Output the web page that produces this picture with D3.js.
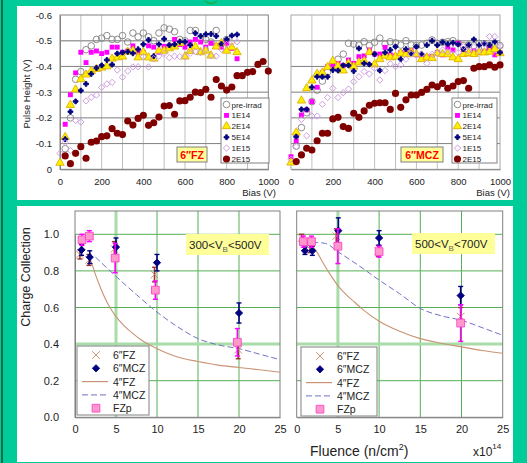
<!DOCTYPE html>
<html>
<head>
<meta charset="utf-8">
<script src="https://cdn.jsdelivr.net/npm/d3@7"></script>
<style>
body { margin: 0; background: #00cc99; }
svg { display: block; font-family: "Liberation Sans", Arial, sans-serif; }
</style>
</head>
<body>
<svg id="chart" width="527" height="463"></svg>
<script>
// ---- data: pulse height vs bias (top) ----
var biasV = [0,25,50,75,100,125,150,175,200,225,250,275,300,325,350,375,400,425,450,475,500,
	525,550,575,600,625,650,675,700,725,750,775,800,825,850,875,900,925,950,975,1000];
var seriesNames = ["pre-irrad", "1E14", "2E14", "5E14", "1E15", "2E15"];
var biasTicks = [0, 200, 400, 600, 800, 1000];
var biasGrid = [100, 200, 300, 400, 500, 600, 700, 800, 900];
var pulseTicks = [0, -0.1, -0.2, -0.3, -0.4, -0.5, -0.6];

var fzPre = [null,-0.08,-0.2,-0.35,-0.38,-0.465,-0.48,-0.505,-0.51,-0.52,-0.505,-0.505,-0.52,-0.495,-0.53,-0.515,-0.53,-0.515,-0.5,-0.53,-0.55,
	-0.545,-0.535,-0.505,-0.5,-0.54,-0.54,-0.51,-0.505,-0.495,-0.54,null,-0.505,null,null,null,null,null,null,null,null];
var fz1E14 = [null,-0.175,-0.29,-0.375,-0.455,-0.415,-0.455,-0.46,-0.45,-0.455,-0.475,-0.475,-0.455,-0.46,-0.48,-0.455,-0.455,-0.48,-0.475,-0.455,-0.478,
	-0.48,-0.505,-0.485,-0.475,-0.495,-0.505,-0.495,-0.475,-0.49,-0.48,-0.475,-0.49,-0.47,-0.43,null,null,null,null,null,null];
var fz2E14 = [-0.025,-0.125,-0.25,-0.31,-0.35,-0.368,-0.382,-0.39,-0.395,-0.4,-0.43,-0.435,-0.438,-0.457,-0.461,-0.435,-0.455,-0.435,-0.43,-0.461,-0.461,
	-0.47,-0.477,-0.49,-0.438,-0.46,-0.477,-0.455,-0.461,-0.442,-0.477,-0.49,-0.461,-0.474,-0.455,null,null,null,null,null,null];
var fz5E14 = [null,-0.117,-0.224,-0.264,-0.306,-0.332,-0.371,-0.394,-0.404,-0.425,-0.407,-0.45,-0.454,-0.457,-0.451,-0.467,-0.486,-0.503,-0.44,-0.486,-0.507,
	-0.483,-0.486,-0.496,-0.496,-0.483,-0.529,-0.518,-0.525,-0.526,-0.518,-0.487,-0.505,-0.52,-0.524,null,null,null,null,null,null];
var fz1E15 = [-0.062,-0.104,-0.073,-0.19,-0.184,-0.266,-0.28,-0.289,-0.319,-0.332,-0.338,-0.386,-0.358,-0.382,-0.398,-0.399,-0.438,-0.398,-0.43,-0.44,-0.451,
	-0.434,-0.44,-0.438,-0.438,-0.451,-0.457,-0.454,-0.467,-0.442,-0.44,-0.467,-0.486,-0.494,-0.496,null,null,null,null,null,null];
var fz2E15 = [null,-0.052,-0.022,-0.062,-0.088,-0.043,-0.105,-0.11,-0.127,-0.13,-0.158,-0.14,-0.135,-0.188,-0.172,-0.198,-0.21,-0.171,-0.181,-0.203,-0.246,
	-0.248,-0.214,-0.266,-0.267,-0.28,-0.3,-0.298,-0.311,-0.28,-0.349,-0.324,-0.308,-0.32,-0.364,-0.364,-0.377,-0.38,-0.408,-0.419,-0.382];

var mczPre = [null,-0.09,-0.162,-0.22,-0.263,-0.308,-0.343,-0.378,-0.395,-0.428,-0.448,-0.49,-0.487,-0.483,-0.496,-0.481,-0.494,-0.51,-0.487,-0.496,-0.492,
	-0.483,-0.5,-0.483,-0.481,-0.483,-0.49,-0.503,-0.49,-0.494,-0.496,-0.5,-0.49,-0.481,-0.483,-0.481,-0.49,-0.477,-0.481,-0.481,-0.481];
var mcz1E14 = [-0.049,-0.111,-0.211,-0.231,-0.263,-0.319,-0.376,-0.399,-0.406,-0.412,-0.404,-0.425,-0.412,-0.438,-0.441,-0.464,-0.448,-0.448,-0.474,-0.445,-0.441,
	-0.454,-0.451,-0.461,-0.445,-0.441,-0.438,-0.438,-0.454,-0.445,-0.474,-0.464,-0.49,-0.464,-0.451,-0.46,-0.454,-0.457,-0.47,-0.445,-0.454];
var mcz2E14 = [-0.026,-0.143,-0.267,-0.315,-0.345,-0.371,-0.376,-0.397,-0.421,-0.402,-0.384,-0.412,-0.399,-0.415,-0.421,-0.455,-0.408,-0.428,-0.441,-0.435,-0.438,
	-0.451,-0.447,-0.455,-0.448,-0.428,-0.435,-0.432,-0.451,-0.448,-0.447,-0.435,-0.428,-0.448,-0.451,-0.448,-0.455,-0.454,-0.457,-0.467,-0.451];
var mcz5E14 = [null,-0.127,-0.233,-0.233,-0.319,-0.36,-0.36,-0.36,-0.386,-0.384,-0.404,-0.404,-0.382,-0.47,-0.412,-0.408,-0.448,-0.384,-0.454,-0.464,-0.477,
	-0.428,-0.467,-0.451,-0.477,-0.448,-0.483,-0.5,-0.483,-0.494,-0.487,-0.492,-0.486,-0.467,-0.483,-0.505,-0.483,-0.49,-0.483,-0.496,-0.454];
var mcz1E15 = [-0.039,-0.088,-0.194,-0.13,-0.207,-0.207,-0.253,-0.279,-0.315,-0.279,-0.298,-0.312,-0.341,-0.36,-0.38,-0.371,-0.393,-0.347,-0.384,-0.41,-0.399,
	-0.406,-0.428,-0.448,-0.445,-0.448,-0.412,-0.447,-0.451,-0.464,-0.457,-0.467,-0.454,-0.477,-0.461,-0.477,-0.461,-0.487,-0.516,-0.516,-0.48];
var mcz2E15 = [null,-0.03,-0.056,-0.082,-0.075,-0.111,-0.14,-0.14,-0.196,-0.202,-0.166,-0.159,-0.218,-0.202,-0.227,-0.249,-0.257,-0.259,-0.259,-0.233,-0.295,
	-0.241,-0.27,-0.289,-0.289,-0.299,-0.311,-0.328,-0.321,-0.334,-0.315,-0.324,-0.341,-0.345,-0.315,-0.393,-0.399,-0.399,-0.406,-0.397,-0.406];

// ---- data: charge collection vs fluence (bottom), A = 300<VB<500V, B = 500<VB<700V ----
var fluenceTicks = [0, 5, 10, 15, 20, 25];
var fluenceGrid = [5, 10, 15, 20];
var ccTicks = [0, 0.2, 0.4, 0.6, 0.8, 1.0];
var ccLegend = ["6\u2033FZ", "6\u2033MCZ", "4\u2033FZ", "4\u2033MCZ", "FZp"];

var fz6X_A = [0.6, 1.7, 4.8, 9.7, 19.9];
var fz6Y_A = [0.89, 0.86, 0.92, 0.78, 0.37];
var fz6E_A = [0.025, 0.03, 0.04, 0.04, 0.05];
var mcz6X_A = [0.8, 1.8, 5.0, 10.0, 20.0];
var mcz6Y_A = [0.915, 0.875, 0.93, 0.845, 0.57];
var mcz6E_A = [0.03, 0.035, 0.05, 0.045, 0.055];
var fzpX_A = [0.85, 1.75, 4.9, 9.8, 19.8];
var fzpY_A = [0.97, 0.99, 0.87, 0.695, 0.41];
var fzpE_A = [0.03, 0.03, 0.08, 0.05, 0.075];
var fz4X_A = [1.9, 2.5, 3, 4, 5, 6, 7, 8, 10, 12.5, 15, 17.5, 20, 22.5, 25];
var fz4Y_A = [0.86, 0.78, 0.72, 0.62, 0.55, 0.5, 0.46, 0.425, 0.375, 0.33, 0.305, 0.285, 0.272, 0.26, 0.246];
var mcz4X_A = [2.5, 5, 7.5, 10, 12.5, 15, 17.5, 20, 22.5, 25];
var mcz4Y_A = [0.875, 0.77, 0.67, 0.575, 0.495, 0.43, 0.395, 0.375, 0.345, 0.315];

var fz6X_B = [0.6, 1.6, 4.8, 9.9, 19.9];
var fz6Y_B = [0.98, 0.92, 0.99, 0.91, 0.55];
var fz6E_B = [0.02, 0.02, 0.04, 0.03, 0.05];
var mcz6X_B = [1.0, 1.9, 5.05, 10.0, 19.9];
var mcz6Y_B = [0.91, 0.91, 1.02, 0.98, 0.665];
var mcz6E_B = [0.02, 0.025, 0.07, 0.04, 0.05];
var fzpX_B = [0.8, 1.8, 5.0, 10.0, 19.9];
var fzpY_B = [0.96, 0.96, 0.935, 0.905, 0.515];
var fzpE_B = [0.03, 0.03, 0.095, 0.03, 0.1];
var fz4X_B = [2, 2.5, 3, 4, 5, 6, 7, 8, 10, 12.5, 15, 17.5, 20, 22.5, 25];
var fz4Y_B = [0.93, 0.9, 0.86, 0.785, 0.72, 0.67, 0.63, 0.59, 0.525, 0.47, 0.43, 0.405, 0.385, 0.365, 0.35];
var mcz4X_B = [0.8, 2.5, 3.5, 5, 7.5, 10, 12.5, 15, 17.5, 20, 22.5, 25];
var mcz4Y_B = [0.955, 0.955, 0.95, 0.905, 0.83, 0.75, 0.675, 0.595, 0.555, 0.53, 0.49, 0.448];

// ---- styles ----
var topMarkers = [
	{type: d3.symbolCircle, size: 34, fill: "none", stroke: "#808080"},
	{type: d3.symbolSquare, size: 24, fill: "#ff00ff", stroke: "none"},
	{type: d3.symbolTriangle, size: 30, fill: "#ffee00", stroke: "#e0b000"},
	{type: d3.symbolCross, size: 13, fill: "#000080", stroke: "#000080"},
	{type: d3.symbolSquare, size: 20, fill: "none", stroke: "#cc99dd", rot: 45},
	{type: d3.symbolCircle, size: 40, fill: "#800000", stroke: "none"}
];
var font = "'Liberation Sans', Arial, sans-serif";

var svg = d3.select("#chart");

// slide background
svg.append("rect").attr("width", 527).attr("height", 463).attr("fill", "#00cc99");
svg.append("rect").attr("x", 1).attr("y", 0).attr("width", 2).attr("height", 463).attr("fill", "#0b6a48");
// bottom of a clipped title glyph
svg.append("path").attr("d", "M205,1 Q211,6 217,1").attr("fill", "none")
	.attr("stroke", "#22aa44").attr("stroke-width", 1.6);
svg.append("rect").attr("x", 17).attr("y", 6).attr("width", 496).attr("height", 194).attr("fill", "#fff");
svg.append("rect").attr("x", 17).attr("y", 206).attr("width", 496).attr("height", 256).attr("fill", "#fff");

function marker(sel, m) {
	sel.attr("d", d3.symbol().type(m.type).size(m.size)())
		.attr("fill", m.fill)
		.attr("stroke", m.stroke)
		.attr("stroke-width", 0.9);
	if (m.rot) {
		sel.attr("transform", function() {
			return d3.select(this).attr("transform") + " rotate(" + m.rot + ")";
		});
	}
}

function pulsePanel(x0, x1, series, withY, frameColor, tag, tagBox, leg, biasLabelX) {
	var x = d3.scaleLinear().domain([0, 1000]).range([x0, x1]);
	var y = d3.scaleLinear().domain([0, -0.6]).range([169.3, 15]);
	var g = svg.append("g");

	g.selectAll(".vg").data(biasGrid).enter().append("line")
		.attr("x1", function(d) { return x(d); }).attr("x2", function(d) { return x(d); })
		.attr("y1", y(0)).attr("y2", y(-0.6))
		.attr("stroke", "#c0c0c0").attr("stroke-width", 1);
	g.selectAll(".hg").data(pulseTicks.slice(1, 6)).enter().append("line")
		.attr("x1", x0).attr("x2", x1)
		.attr("y1", function(d) { return y(d); }).attr("y2", function(d) { return y(d); })
		.attr("stroke", function(d) { return d === -0.5 ? "#a0a0a0" : "#808080"; })
		.attr("stroke-width", function(d) { return d === -0.5 ? 1.6 : 1; });
	g.append("rect").attr("x", x0).attr("y", y(-0.6))
		.attr("width", x1 - x0).attr("height", y(0) - y(-0.6))
		.attr("fill", "none").attr("stroke", frameColor);

	var xa = g.append("g").attr("transform", "translate(0," + y(0) + ")")
		.call(d3.axisBottom(x).tickValues(biasTicks).tickSize(0).tickPadding(9)
			.tickFormat(function(d) { return String(d); }));
	xa.select(".domain").attr("stroke", "#808080");
	xa.selectAll("text").attr("font-size", 9.5).attr("font-family", font).attr("fill", "#222");

	if (withY) {
		var ya = g.append("g").attr("transform", "translate(" + x0 + ",0)")
			.call(d3.axisLeft(y).tickValues(pulseTicks).tickSize(0).tickPadding(8)
				.tickFormat(function(d) { return d === 0 ? "0" : d.toFixed(1); }));
		ya.select(".domain").attr("stroke", "#808080");
		ya.selectAll("text").attr("font-size", 9.5).attr("font-family", font).attr("fill", "#222");
		g.append("text").attr("transform", "translate(30,94) rotate(-90)")
			.attr("text-anchor", "middle").attr("font-size", 9.5).attr("fill", "#222")
			.text("Pulse Height (V)");
	}
	g.append("text").attr("x", biasLabelX).attr("y", 196).attr("text-anchor", "end")
		.attr("font-size", 9.5).attr("fill", "#222").text("Bias (V)");

	series.forEach(function(vals, k) {
		var pts = biasV.map(function(v, i) { return [v, vals[i]]; })
			.filter(function(p) { return p[1] !== null; });
		g.append("g").selectAll("path").data(pts).enter().append("path")
			.attr("transform", function(p) { return "translate(" + x(p[0]) + "," + y(p[1]) + ")"; })
			.call(marker, topMarkers[k]);
	});

	// tag box
	g.append("rect").attr("x", tagBox[0]).attr("y", tagBox[1]).attr("width", tagBox[2]).attr("height", 15)
		.attr("fill", "#ffff99").attr("stroke", "#808080");
	g.append("text").attr("x", tagBox[0] + tagBox[2] / 2).attr("y", tagBox[1] + 11.5)
		.attr("text-anchor", "middle").attr("font-size", 10.5).attr("font-weight", "bold")
		.attr("fill", "#ff0000").text(tag);

	// legend
	g.append("rect").attr("x", leg[0]).attr("y", leg[1]).attr("width", leg[2]).attr("height", 65)
		.attr("fill", "#fff").attr("stroke", "#808080");
	seriesNames.forEach(function(name, k) {
		var ly = leg[1] + 6.5 + k * 10.9;
		g.append("path").attr("transform", "translate(" + (leg[0] + 5.5) + "," + ly + ")")
			.call(marker, topMarkers[k]);
		g.append("text").attr("x", leg[0] + 10.5).attr("y", ly + 3)
			.attr("font-size", 8).attr("fill", "#222").text(name);
	});
}

pulsePanel(60, 268.3, [fzPre, fz1E14, fz2E14, fz5E14, fz1E15, fz2E15], true, "#808080",
	"6\u2033FZ", [177, 147, 30], [221, 98, 48], 276);
pulsePanel(291, 500, [mczPre, mcz1E14, mcz2E14, mcz5E14, mcz1E15, mcz2E15], false, "#a8a8a8",
	"6\u2033MCZ", [401, 147, 42], [452, 98, 45], 510);

// ---- bottom panels ----
function errPoints(g, x, y, xs, ys, es, color) {
	xs.forEach(function(xv, i) {
		var px = x(xv);
		g.append("line").attr("x1", px).attr("x2", px)
			.attr("y1", y(ys[i] - es[i])).attr("y2", y(ys[i] + es[i]))
			.attr("stroke", color).attr("stroke-width", 1.6);
		[ys[i] - es[i], ys[i] + es[i]].forEach(function(v) {
			g.append("line").attr("x1", px - 2.5).attr("x2", px + 2.5)
				.attr("y1", y(v)).attr("y2", y(v))
				.attr("stroke", color).attr("stroke-width", 1.4);
		});
	});
}

var fzCross = {type: d3.symbolX, size: 40, fill: "none", stroke: "#cc8866"};
var mczDiamond = {type: d3.symbolSquare, size: 26, fill: "#000080", stroke: "#000080", rot: 45};
var fzpSquare = {type: d3.symbolSquare, size: 60, fill: "#ff99cc", stroke: "#ff44cc"};

function ccPanel(x0, x1, yZero, d, boxX, boxY, lowV, highV, leg, withY) {
	var x = d3.scaleLinear().domain([0, 25]).range([x0, x1]);
	var y = d3.scaleLinear().domain([0, 1]).range([yZero, yZero - 183]);
	var top = 211;
	var g = svg.append("g");

	g.selectAll(".vg").data(fluenceGrid).enter().append("line")
		.attr("x1", function(v) { return x(v); }).attr("x2", function(v) { return x(v); })
		.attr("y1", yZero).attr("y2", top)
		.attr("stroke", function(v) { return v === 5 ? "#a8dca8" : "#55b055"; })
		.attr("stroke-width", function(v) { return v === 5 ? 3 : 1; });
	g.selectAll(".hg").data(ccTicks.slice(1)).enter().append("line")
		.attr("x1", x0).attr("x2", x1)
		.attr("y1", function(v) { return y(v); }).attr("y2", function(v) { return y(v); })
		.attr("stroke", function(v) { return v === 0.4 ? "#a8dca8" : "#55b055"; })
		.attr("stroke-width", function(v) { return v === 0.4 ? 3 : 1; });
	g.append("rect").attr("x", x0).attr("y", top).attr("width", x1 - x0).attr("height", yZero - top)
		.attr("fill", "none").attr("stroke", "#808080");

	var xa = g.append("g").attr("transform", "translate(0," + yZero + ")")
		.call(d3.axisBottom(x).tickValues(fluenceTicks).tickSize(0).tickPadding(8));
	xa.select(".domain").attr("stroke", "#808080");
	xa.selectAll("text").attr("font-size", 11).attr("font-family", font).attr("fill", "#222");
	if (withY) {
		var ya = g.append("g").attr("transform", "translate(" + x0 + ",0)")
			.call(d3.axisLeft(y).tickValues(ccTicks).tickSize(0).tickPadding(16)
				.tickFormat(function(v) { return v.toFixed(1); }));
		ya.select(".domain").attr("stroke", "#808080");
		ya.selectAll("text").attr("font-size", 11).attr("font-family", font).attr("fill", "#222");
		g.append("text").attr("transform", "translate(30,277) rotate(-90)")
			.attr("text-anchor", "middle").attr("font-size", 12.5).attr("fill", "#222")
			.text("Charge Collection");
	}

	var line = d3.line().curve(d3.curveMonotoneX)
		.x(function(p) { return x(p[0]); }).y(function(p) { return y(p[1]); });
	g.append("path").attr("d", line(d3.zip(d.fz4X, d.fz4Y)))
		.attr("fill", "none").attr("stroke", "#c99475").attr("stroke-width", 1.1);
	g.append("path").attr("d", line(d3.zip(d.mcz4X, d.mcz4Y)))
		.attr("fill", "none").attr("stroke", "#7272c4").attr("stroke-width", 1)
		.attr("stroke-dasharray", "6,3");

	errPoints(g, x, y, d.fz6X, d.fz6Y, d.fz6E, "#993333");
	g.selectAll(".fz").data(d3.zip(d.fz6X, d.fz6Y)).enter().append("path")
		.attr("transform", function(p) { return "translate(" + x(p[0]) + "," + y(p[1]) + ")"; })
		.call(marker, fzCross);
	errPoints(g, x, y, d.mcz6X, d.mcz6Y, d.mcz6E, "#000080");
	g.selectAll(".mcz").data(d3.zip(d.mcz6X, d.mcz6Y)).enter().append("path")
		.attr("transform", function(p) { return "translate(" + x(p[0]) + "," + y(p[1]) + ")"; })
		.call(marker, mczDiamond);
	errPoints(g, x, y, d.fzpX, d.fzpY, d.fzpE, "#ff00ff");
	g.selectAll(".fzp").data(d3.zip(d.fzpX, d.fzpY)).enter().append("path")
		.attr("transform", function(p) { return "translate(" + x(p[0]) + "," + y(p[1]) + ")"; })
		.call(marker, fzpSquare);

	// voltage window box
	g.append("rect").attr("x", boxX).attr("y", boxY).attr("width", 83).attr("height", 21).attr("fill", "#ffff99");
	var t = g.append("text").attr("x", boxX + 3).attr("y", boxY + 15).attr("font-size", 11.5).attr("fill", "#222");
	t.append("tspan").text(lowV + "<V");
	t.append("tspan").attr("font-size", 8).attr("dy", 2.5).attr("fill", "#666").text("B");
	t.append("tspan").attr("dy", -2.5).text("<" + highV + "V");

	// legend
	g.append("rect").attr("x", leg[0]).attr("y", leg[1]).attr("width", leg[2]).attr("height", 69)
		.attr("fill", "#fff").attr("stroke", "#808080");
	ccLegend.forEach(function(name, k) {
		var ly = leg[1] + 9 + k * 13.3;
		var sx = leg[0] + 19;
		if (k === 0) g.append("path").attr("transform", "translate(" + sx + "," + ly + ")").call(marker, fzCross);
		if (k === 1) g.append("path").attr("transform", "translate(" + sx + "," + ly + ")").call(marker, mczDiamond);
		if (k === 2) g.append("line").attr("x1", sx - 14).attr("x2", sx + 12).attr("y1", ly).attr("y2", ly)
			.attr("stroke", "#c99475").attr("stroke-width", 1.2);
		if (k === 3) g.append("line").attr("x1", sx - 14).attr("x2", sx + 12).attr("y1", ly).attr("y2", ly)
			.attr("stroke", "#7272c4").attr("stroke-dasharray", "6,3");
		if (k === 4) g.append("path").attr("transform", "translate(" + sx + "," + ly + ")").call(marker, fzpSquare);
		g.append("text").attr("x", leg[0] + 36).attr("y", ly + 4)
			.attr("font-size", 10.5).attr("fill", "#222").text(name);
	});
}

ccPanel(75, 280, 417.3, {
	fz6X: fz6X_A, fz6Y: fz6Y_A, fz6E: fz6E_A, mcz6X: mcz6X_A, mcz6Y: mcz6Y_A, mcz6E: mcz6E_A,
	fzpX: fzpX_A, fzpY: fzpY_A, fzpE: fzpE_A, fz4X: fz4X_A, fz4Y: fz4Y_A, mcz4X: mcz4X_A, mcz4Y: mcz4Y_A
}, 186, 234, 300, 500, [77, 346, 72], true);
ccPanel(296.7, 502.7, 417.3, {
	fz6X: fz6X_B, fz6Y: fz6Y_B, fz6E: fz6E_B, mcz6X: mcz6X_B, mcz6Y: mcz6Y_B, mcz6E: mcz6E_B,
	fzpX: fzpX_B, fzpY: fzpY_B, fzpE: fzpE_B, fz4X: fz4X_B, fz4Y: fz4Y_B, mcz4X: mcz4X_B, mcz4Y: mcz4Y_B
}, 412, 233, 500, 700, [301, 347, 76], false);

// shared x label
var fl = svg.append("text").attr("x", 310).attr("y", 456).attr("font-size", 14).attr("fill", "#222");
fl.append("tspan").text("Fluence (n/cm");
fl.append("tspan").attr("font-size", 9).attr("dy", -6).text("2");
fl.append("tspan").attr("dy", 6).text(")");
var ex = svg.append("text").attr("x", 473).attr("y", 456).attr("font-size", 12).attr("fill", "#222");
ex.append("tspan").text("x10");
ex.append("tspan").attr("font-size", 8).attr("dy", -7).text("14");
</script>
</body>
</html>
